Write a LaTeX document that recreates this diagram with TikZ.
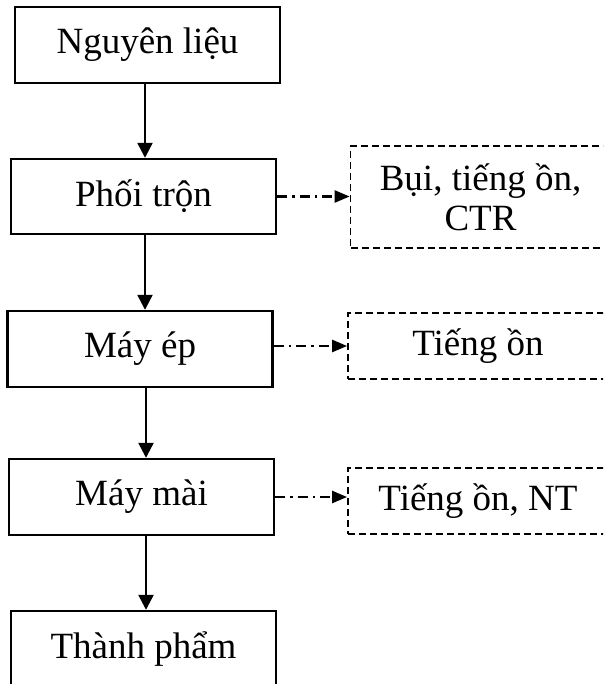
\documentclass[tikz,border=0pt]{standalone}
\usepackage{fontspec}
\setmainfont{Liberation Serif}
\usetikzlibrary{arrows.meta}
\tikzset{
  proc/.style={draw,line width=2.4pt,minimum width=265pt,minimum height=76pt,inner sep=0pt,font=\fontsize{37}{40}\selectfont},
  waste/.style={draw,line width=1.8pt,dash pattern=on 7pt off 4pt,minimum width=260pt,inner sep=0pt,align=center,font=\fontsize{37}{40}\selectfont},
  flow/.style={line width=2.4pt,-{Triangle[length=15pt,width=15pt]}},
  ddflow/.style={line width=2.4pt,dash pattern=on 10pt off 5pt on 2.5pt off 5pt,-{Triangle[length=15pt,width=12pt]}}
}
\begin{document}
\begin{tikzpicture}[x=1pt,y=-1pt]
\useasboundingbox (0,0) rectangle (603,684);
\clip (0,0) rectangle (603,684);
\node[proc] (n1) at (147.5,45) {Nguyên liệu};
\node[proc,minimum height=75pt] (n2) at (143.5,196.5) {Phối trộn};
\node[proc] (n3) at (140,349) {Máy ép};
\node[proc] (n4) at (141.5,497) {Máy mài};
\node[proc] (n5) at (143.5,649) {Thành phẩm};
\node[waste,minimum height=102pt] (d1) at (480.5,197) {Bụi, tiếng ồn,\\CTR};
\node[waste,minimum height=66pt] (d2) at (478,346) {Tiếng ồn};
\node[waste,minimum height=66pt] (d3) at (478,501) {Tiếng ồn, NT};
\coordinate (ax) at (145,0);
\draw[flow] (n1.south -| ax) -- (n2.north -| ax);
\draw[flow] (n2.south -| ax) -- (n3.north -| ax);
\draw[flow] ([xshift=1pt]n3.south -| ax) -- ([xshift=1pt]n4.north -| ax);
\draw[flow] ([xshift=1pt]n4.south -| ax) -- ([xshift=1pt]n5.north -| ax);
\draw[ddflow] (n2.east) -- (n2.east -| d1.west);
\draw[ddflow] (d2.west -| n3.east) -- (d2.west);
\draw[ddflow] (n4.east) -- (n4.east -| d3.west);
\end{tikzpicture}
\end{document}
